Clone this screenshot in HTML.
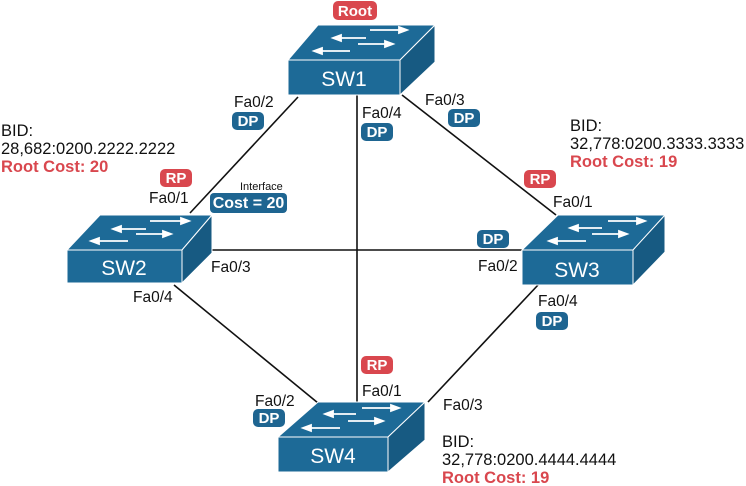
<!DOCTYPE html>
<html><head><style>
body{margin:0;background:#fff;}
svg{display:block;font-family:"Liberation Sans",sans-serif;}
.l{font-size:15.5px;fill:#111;}
.bid{font-size:16.5px;fill:#111;}
.b{font-size:15px;font-weight:bold;fill:#fff;}
.r{font-size:16.5px;font-weight:bold;fill:#d9474e;}
.n{font-size:21px;fill:#fff;}
</style></head><body>
<svg width="746" height="486" viewBox="0 0 746 486" xmlns="http://www.w3.org/2000/svg">
<g stroke="#111" stroke-width="1.6">
<line x1="298" y1="97" x2="190" y2="213"/>
<line x1="357" y1="95" x2="357" y2="402"/>
<line x1="402" y1="95" x2="556" y2="215"/>
<line x1="212" y1="250" x2="522" y2="250"/>
<line x1="174" y1="285" x2="318" y2="403"/>
<line x1="538" y1="285" x2="428" y2="402"/>
</g>
<g>
<polygon points="288,60 318,25 435,25 400,60" fill="#1d6a97" stroke="#fff" stroke-width="1"/>
<polygon points="400,60 435,25 435,62 400,95" fill="#175a82" stroke="#fff" stroke-width="1"/>
<rect x="288" y="60" width="112" height="35" fill="#1d6a97" stroke="#fff" stroke-width="1"/>
<g stroke="#fff" stroke-width="1.8" fill="#fff">
<line x1="338" y1="38" x2="366" y2="38"/><polygon points="333,38 341,35 341,41"/>
<line x1="370" y1="30" x2="400" y2="30"/><polygon points="407,30 399,27 399,33"/>
<line x1="320" y1="51" x2="350" y2="51"/><polygon points="314,51 322,48 322,54"/>
<line x1="358" y1="44" x2="386" y2="44"/><polygon points="393,44 385,41 385,47"/>
</g>
<text class="n" x="344" y="86" text-anchor="middle">SW1</text>
</g>
<g>
<polygon points="67,250 100,215 212,215 182,250" fill="#1d6a97" stroke="#fff" stroke-width="1"/>
<polygon points="182,250 212,215 212,253 182,283" fill="#175a82" stroke="#fff" stroke-width="1"/>
<rect x="67" y="250" width="115" height="33" fill="#1d6a97" stroke="#fff" stroke-width="1"/>
<g stroke="#fff" stroke-width="1.8" fill="#fff">
<line x1="118" y1="229" x2="146" y2="229"/><polygon points="113,229 121,226 121,232"/>
<line x1="150" y1="221" x2="182" y2="221"/><polygon points="189,221 181,218 181,224"/>
<line x1="98" y1="241" x2="128" y2="241"/><polygon points="91,241 99,238 99,244"/>
<line x1="136" y1="234" x2="164" y2="234"/><polygon points="171,234 163,231 163,237"/>
</g>
<text class="n" x="124" y="275" text-anchor="middle">SW2</text>
</g>
<g>
<polygon points="522,250 558,215 665,215 633,250" fill="#1d6a97" stroke="#fff" stroke-width="1"/>
<polygon points="633,250 665,215 665,252 633,285" fill="#175a82" stroke="#fff" stroke-width="1"/>
<rect x="522" y="250" width="111" height="35" fill="#1d6a97" stroke="#fff" stroke-width="1"/>
<g stroke="#fff" stroke-width="1.8" fill="#fff">
<line x1="575" y1="228" x2="602" y2="228"/><polygon points="570,228 578,225 578,231"/>
<line x1="608" y1="221" x2="638" y2="221"/><polygon points="645,221 637,218 637,224"/>
<line x1="556" y1="241" x2="586" y2="241"/><polygon points="549,241 557,238 557,244"/>
<line x1="592" y1="234" x2="620" y2="234"/><polygon points="627,234 619,231 619,237"/>
</g>
<text class="n" x="577" y="277" text-anchor="middle">SW3</text>
</g>
<g>
<polygon points="278,437 318,402 425,402 388,437" fill="#1d6a97" stroke="#fff" stroke-width="1"/>
<polygon points="388,437 425,402 425,440 388,472" fill="#175a82" stroke="#fff" stroke-width="1"/>
<rect x="278" y="437" width="110" height="35" fill="#1d6a97" stroke="#fff" stroke-width="1"/>
<g stroke="#fff" stroke-width="1.8" fill="#fff">
<line x1="330" y1="414" x2="356" y2="414"/><polygon points="325,414 333,411 333,417"/>
<line x1="362" y1="408" x2="392" y2="408"/><polygon points="399,408 391,405 391,411"/>
<line x1="310" y1="428" x2="340" y2="428"/><polygon points="303,428 311,425 311,431"/>
<line x1="348" y1="421" x2="376" y2="421"/><polygon points="383,421 375,418 375,424"/>
</g>
<text class="n" x="333" y="463" text-anchor="middle">SW4</text>
</g>
<g>
<rect x="333" y="1" width="44" height="19" rx="5" fill="#d9474e"/><text class="b" x="355" y="16" text-anchor="middle">Root</text>
<rect x="232" y="112" width="32" height="18" rx="5" fill="#1e6591"/><text class="b" x="248" y="126" text-anchor="middle">DP</text>
<rect x="361" y="123" width="32" height="18" rx="5" fill="#1e6591"/><text class="b" x="377" y="137" text-anchor="middle">DP</text>
<rect x="448" y="109" width="32" height="18" rx="5" fill="#1e6591"/><text class="b" x="464" y="123" text-anchor="middle">DP</text>
<rect x="160" y="169" width="32" height="18" rx="5" fill="#d9474e"/><text class="b" x="176" y="183" text-anchor="middle">RP</text>
<rect x="210" y="193" width="77" height="20" rx="4" fill="#1e6591"/><text class="b" x="248.5" y="208" text-anchor="middle" style="font-size:16px">Cost = 20</text>
<rect x="524" y="170" width="32" height="18" rx="5" fill="#d9474e"/><text class="b" x="540" y="184" text-anchor="middle">RP</text>
<rect x="477" y="230" width="32" height="18" rx="5" fill="#1e6591"/><text class="b" x="493" y="244" text-anchor="middle">DP</text>
<rect x="536" y="312" width="32" height="18" rx="5" fill="#1e6591"/><text class="b" x="552" y="326" text-anchor="middle">DP</text>
<rect x="361" y="356" width="32" height="18" rx="5" fill="#d9474e"/><text class="b" x="377" y="370" text-anchor="middle">RP</text>
<rect x="253" y="409" width="32" height="18" rx="5" fill="#1e6591"/><text class="b" x="269" y="423" text-anchor="middle">DP</text>
</g>
<g>
<text class="l" x="234" y="107">Fa0/2</text>
<text class="l" x="362" y="118">Fa0/4</text>
<text class="l" x="425" y="105">Fa0/3</text>
<text class="l" x="149" y="203">Fa0/1</text>
<text class="l" x="240" y="190" style="font-size:11px">Interface</text>
<text class="l" x="211" y="272">Fa0/3</text>
<text class="l" x="133" y="302">Fa0/4</text>
<text class="l" x="553" y="207">Fa0/1</text>
<text class="l" x="478" y="271">Fa0/2</text>
<text class="l" x="538" y="306">Fa0/4</text>
<text class="l" x="362" y="396">Fa0/1</text>
<text class="l" x="255" y="406">Fa0/2</text>
<text class="l" x="443" y="410">Fa0/3</text>
<text class="bid" x="1" y="136">BID:</text>
<text class="bid" x="1" y="154">28,682:0200.2222.2222</text>
<text class="r" x="1" y="172">Root Cost: 20</text>
<text class="bid" x="570" y="131">BID:</text>
<text class="bid" x="570" y="149">32,778:0200.3333.3333</text>
<text class="r" x="570" y="167">Root Cost: 19</text>
<text class="bid" x="442" y="447">BID:</text>
<text class="bid" x="442" y="465">32,778:0200.4444.4444</text>
<text class="r" x="442" y="483">Root Cost: 19</text>
</g>
</svg>
</body></html>
